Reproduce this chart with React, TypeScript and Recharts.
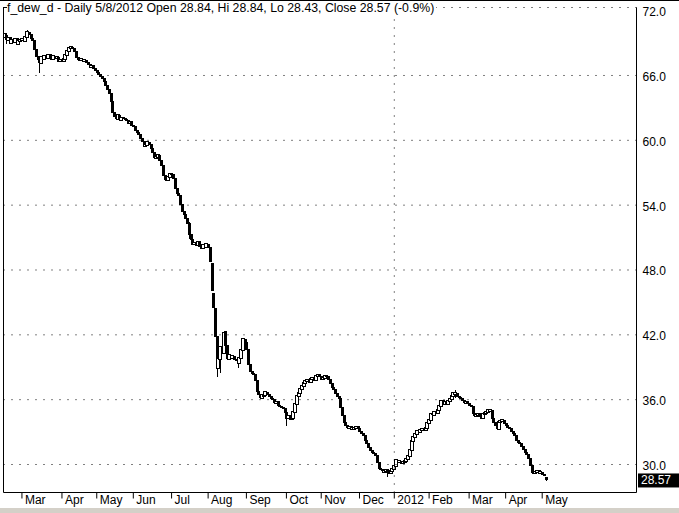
import { ComposedChart, Bar, XAxis, YAxis, ReferenceLine } from 'recharts'

const FONT = '"Liberation Sans", Arial, sans-serif'

// one value per trading day, Feb 2011 .. May 8 2012
const closesFeb11 = [69.8, 69.3, 69.5, 69.0, 69.3, 69.1, 69.4, 68.9, 69.2, 69.3]
const closesMar11 = [69.4, 69.2, 69.6, 70.0, 69.8, 69.4, 69.2, 68.4, 67.8, 67.5, 67.2, 67.7, 67.5, 67.8, 67.6, 67.9, 67.7, 67.5, 67.8, 67.6, 67.7, 67.3, 67.4]
const closesApr11 = [67.3, 67.5, 67.9, 68.3, 68.5, 68.6, 68.5, 68.2, 67.7, 67.5, 67.4, 67.5, 67.3, 67.4, 67.2, 67.0, 66.8, 66.9, 66.6, 66.5, 66.3]
const closesMay11 = [66.1, 65.9, 65.7, 65.4, 65.1, 64.7, 64.3, 63.6, 62.6, 62.2, 62.0, 62.3, 61.9, 62.1, 62.0, 61.9, 61.8, 61.6, 61.7, 61.4, 61.3]
const closesJun11 = [60.9, 60.7, 60.5, 60.2, 59.9, 59.5, 59.6, 59.8, 59.6, 59.2, 58.9, 58.4, 58.5, 58.6, 58.1, 57.7, 56.7, 56.4, 56.3, 56.6, 56.9, 56.8]
const closesJul11 = [56.5, 55.5, 55.1, 54.9, 54.1, 53.4, 53.1, 52.8, 52.3, 51.3, 50.8, 50.4, 50.5, 50.3, 50.6, 50.2, 50.0, 50.3, 50.1, 50.4]
const closesAug11 = [50.1, 48.8, 46.1, 44.5, 41.8, 38.9, 39.8, 40.9, 40.3, 42.2, 41.0, 39.8, 40.1, 39.9, 40.0, 39.7, 39.6, 39.4, 39.9, 40.6, 41.6, 41.3, 40.6]
const closesSep11 = [39.3, 38.6, 38.4, 38.3, 37.8, 36.8, 36.5, 36.2, 36.4, 36.4, 36.7, 36.5, 36.3, 36.1, 36.0, 35.7, 35.8, 35.5, 35.4, 35.3, 35.2]
const closesOct11 = [34.8, 34.3, 34.5, 34.2, 34.3, 34.9, 35.6, 36.3, 36.6, 37.0, 37.3, 37.5, 37.7, 37.8, 37.6, 37.9, 38.0, 37.8, 38.2, 38.3, 38.1]
const closesNov11 = [37.9, 38.0, 38.2, 38.1, 37.9, 37.5, 37.1, 36.9, 36.6, 36.3, 36.1, 35.3, 34.5, 33.9, 33.6, 33.4, 33.5, 33.3, 33.4, 33.4, 33.5]
const closesDec11 = [33.3, 33.1, 32.9, 32.7, 32.2, 31.9, 31.6, 31.3, 31.1, 31.0, 30.8, 30.2, 29.6, 29.5, 29.4, 29.4, 29.5, 29.3, 29.2, 29.4, 29.6]
const closesJan12 = [29.9, 30.4, 30.2, 30.3, 30.1, 30.2, 30.3, 30.5, 30.8, 31.3, 32.2, 32.5, 32.8, 33.1, 33.0, 33.2, 33.3, 33.2, 33.4, 33.8]
const closesFeb12 = [34.1, 34.7, 34.6, 34.9, 34.8, 35.0, 35.4, 35.9, 35.6, 35.8, 35.6, 35.9, 36.1, 36.3, 36.6, 36.6, 36.3, 36.2, 36.1, 35.9]
const closesMar12 = [35.7, 35.8, 35.6, 35.5, 35.4, 34.7, 34.5, 34.6, 34.7, 34.4, 34.3, 34.7, 34.8, 34.9, 35.0, 35.0, 34.3, 33.9, 33.6, 33.3, 33.9, 34.0]
const closesApr12 = [34.1, 33.8, 33.6, 33.4, 33.3, 33.1, 32.9, 32.7, 32.2, 32.0, 31.9, 31.7, 31.4, 31.1, 30.9, 30.6, 29.9, 29.3, 29.2, 29.3]
const closesMay12 = [29.4, 29.3, 29.3, 29.1, 29.0, 28.57]

const opensFeb11 = [69.6, 69.7, 69.3, 69.5, 69.0, 69.3, 69.1, 69.4, 68.9, 69.2]
const opensMar11 = [69.3, 69.4, 69.2, 69.6, 70.0, 69.8, 69.4, 69.2, 68.4, 67.8, 67.5, 67.2, 67.7, 67.5, 67.8, 67.6, 67.9, 67.7, 67.5, 67.8, 67.6, 67.7, 67.3]
const opensApr11 = [67.4, 67.3, 67.5, 67.9, 68.3, 68.5, 68.6, 68.5, 68.2, 67.7, 67.5, 67.4, 67.5, 67.3, 67.4, 67.2, 67.0, 66.8, 66.9, 66.6, 66.5]
const opensMay11 = [66.3, 66.1, 65.9, 65.7, 65.4, 65.1, 64.7, 64.3, 63.6, 62.6, 62.2, 62.0, 62.3, 61.9, 62.1, 62.0, 61.9, 61.8, 61.6, 61.7, 61.4]
const opensJun11 = [61.3, 60.9, 60.7, 60.5, 60.2, 59.9, 59.5, 59.6, 59.8, 59.6, 59.2, 58.9, 58.4, 58.5, 58.6, 58.1, 57.7, 56.7, 56.4, 56.3, 56.6, 56.9]
const opensJul11 = [56.8, 56.5, 55.5, 55.1, 54.9, 54.1, 53.4, 53.1, 52.8, 52.3, 51.3, 50.8, 50.4, 50.5, 50.3, 50.6, 50.2, 50.0, 50.3, 50.1]
const opensAug11 = [50.4, 50.1, 48.6, 45.8, 44.4, 41.8, 38.9, 39.8, 40.9, 40.3, 42.3, 41.0, 39.8, 40.1, 39.9, 40.0, 39.7, 39.6, 39.4, 39.9, 40.6, 41.6, 41.3]
const opensSep11 = [40.6, 39.3, 38.6, 38.4, 38.3, 37.8, 36.8, 36.5, 36.2, 36.4, 36.4, 36.7, 36.5, 36.3, 36.1, 36.0, 35.7, 35.8, 35.5, 35.4, 35.3]
const opensOct11 = [35.2, 34.8, 34.3, 34.5, 34.2, 34.3, 34.9, 35.6, 36.3, 36.6, 37.0, 37.3, 37.5, 37.7, 37.8, 37.6, 37.9, 38.0, 37.8, 38.2, 38.3]
const opensNov11 = [38.1, 37.9, 38.0, 38.2, 38.1, 37.9, 37.5, 37.1, 36.9, 36.6, 36.3, 36.1, 35.3, 34.5, 33.9, 33.6, 33.4, 33.5, 33.3, 33.4, 33.4]
const opensDec11 = [33.5, 33.3, 33.1, 32.9, 32.7, 32.2, 31.9, 31.6, 31.3, 31.1, 31.0, 30.8, 30.2, 29.6, 29.5, 29.4, 29.4, 29.5, 29.3, 29.2, 29.4]
const opensJan12 = [29.6, 29.9, 30.4, 30.2, 30.3, 30.1, 30.2, 30.3, 30.5, 30.8, 31.3, 32.2, 32.5, 32.8, 33.1, 33.0, 33.2, 33.3, 33.2, 33.4]
const opensFeb12 = [33.8, 34.1, 34.7, 34.6, 34.9, 34.8, 35.0, 35.4, 35.9, 35.6, 35.8, 35.6, 35.9, 36.1, 36.3, 36.6, 36.6, 36.3, 36.2, 36.1]
const opensMar12 = [35.9, 35.7, 35.8, 35.6, 35.5, 35.4, 34.7, 34.5, 34.6, 34.7, 34.4, 34.3, 34.7, 34.8, 34.9, 35.0, 35.0, 34.3, 33.9, 33.6, 33.3, 33.9]
const opensApr12 = [34.0, 34.1, 33.8, 33.6, 33.4, 33.3, 33.1, 32.9, 32.7, 32.2, 32.0, 31.9, 31.7, 31.4, 31.1, 30.9, 30.6, 29.9, 29.3, 29.2]
const opensMay12 = [29.3, 29.4, 29.3, 29.3, 29.1, 28.84]

// visible wicks: [day index, low, high]
const wicks: [number, number, number][] = [
  [1, 68.9, 69.9], [13, 69.6, 70.2], [20, 66.2, 67.6], [106, 50.9, 52.4],
  [122, 38.1, 41.8], [124, 38.5, 41.0], [134, 38.9, 39.8], [162, 33.6, 34.8],
  [220, 28.8, 29.5], [259, 36.2, 36.9], [311, 28.43, 28.84],
]

const monthTicks = [10, 33, 53, 74, 96, 117, 139, 162, 182, 204, 224, 244, 267, 288, 309]
const monthLabels = ['Mar', 'Apr', 'May', 'Jun', 'Jul', 'Aug', 'Sep', 'Oct', 'Nov', 'Dec', '2012', 'Feb', 'Mar', 'Apr', 'May']
const priceTicks = [30, 36, 42, 48, 54, 60, 66, 72]
const gridPrices = [30, 36, 42, 48, 54, 60, 66]
const NEW_YEAR = 224
const LAST_CLOSE = 28.57
const TITLE = 'f_dew_d - Daily 5/8/2012 Open 28.84, Hi 28.84, Lo 28.43, Close 28.57 (-0.9%)'

const X_DOMAIN: [number, number] = [-0.6, 363.2]
const Y_DOMAIN: [number, number] = [27.41, 72.29]

const closes = [
  ...closesFeb11, ...closesMar11, ...closesApr11, ...closesMay11, ...closesJun11, ...closesJul11,
  ...closesAug11, ...closesSep11, ...closesOct11, ...closesNov11, ...closesDec11, ...closesJan12,
  ...closesFeb12, ...closesMar12, ...closesApr12, ...closesMay12,
]
const opens = [
  ...opensFeb11, ...opensMar11, ...opensApr11, ...opensMay11, ...opensJun11, ...opensJul11,
  ...opensAug11, ...opensSep11, ...opensOct11, ...opensNov11, ...opensDec11, ...opensJan12,
  ...opensFeb12, ...opensMar12, ...opensApr12, ...opensMay12,
]

const wickByDay = new Map(wicks.map(([i, lo, hi]) => [i, { lo, hi }]))

const candles = closes.map((close, i) => {
  const open = opens[i]
  const w = wickByDay.get(i)
  const high = Math.max(open, close, w ? w.hi : -Infinity)
  const low = Math.min(open, close, w ? w.lo : Infinity)
  return { i, open, close, high: high === low ? high + 0.02 : high, low }
})

function Candle(props: any) {
  const { x, y, width, height, payload } = props
  if (!payload) return null
  const cx = Math.round(x + width / 2)
  const top = Math.min(y, y + height)
  const k = Math.abs(height) / (payload.high - payload.low)
  const py = (v: number) => top + (payload.high - v) * k
  const up = payload.close >= payload.open
  const bTop = py(Math.max(payload.open, payload.close)) - 0.5
  const bBot = py(Math.min(payload.open, payload.close)) + 0.5
  const h = Math.max(bBot - bTop, 2)
  return (
    <g shapeRendering="crispEdges">
      <line x1={cx + 0.5} x2={cx + 0.5} y1={py(payload.high)} y2={py(payload.low)} stroke="#000" />
      {up
        ? <rect x={cx - 1.5} y={bTop} width={3} height={h} fill="#fff" stroke="#000" />
        : <rect x={cx - 1} y={bTop} width={3} height={h} fill="#000" />}
    </g>
  )
}

function MonthTick(props: any) {
  const { x, y, payload } = props
  const label = monthLabels[monthTicks.indexOf(payload.value)]
  return (
    <text x={x + 3} y={y + 5.5} fontSize={12} fontFamily={FONT} fill="#000">{label}</text>
  )
}

function PriceTick(props: any) {
  const { x, y, payload } = props
  return (
    <text x={x} y={y + 5.5} fontSize={12} fontFamily={FONT} fill="#000">{payload.value.toFixed(1)}</text>
  )
}

function LastTag(props: any) {
  const { x, y, width } = props.viewBox
  const left = x + width + 1.5
  return (
    <g>
      <rect x={left} y={y - 6.5} width={41} height={14} fill="#000" />
      <text x={left + 3} y={y + 4.5} fontSize={12} fontFamily={FONT} fill="#fff">{LAST_CLOSE.toFixed(2)}</text>
    </g>
  )
}

export default function App() {
  return (
    <div style={{ position: 'absolute', left: 0, top: 0, width: 679, height: 513, background: '#fff', fontFamily: FONT }}>
      <ComposedChart width={679} height={513} data={candles} margin={{ top: 7.5, right: 0, bottom: 0, left: 3.5 }}>
        <XAxis
          type="number"
          dataKey="i"
          domain={X_DOMAIN}
          allowDataOverflow
          ticks={monthTicks}
          interval={0}
          height={20.5}
          axisLine={{ stroke: '#000' }}
          tickLine={{ stroke: '#000' }}
          tickSize={6}
          tickMargin={0}
          tick={<MonthTick />}
        />
        <YAxis
          orientation="right"
          type="number"
          domain={Y_DOMAIN}
          allowDataOverflow
          ticks={priceTicks}
          interval={0}
          width={42.5}
          axisLine={{ stroke: '#000' }}
          tickLine={false}
          tickSize={6}
          tickMargin={0}
          tick={<PriceTick />}
        />
        {gridPrices.map(p => (
          <ReferenceLine key={p} y={p} stroke="#000" strokeDasharray="1 7" />
        ))}
        <ReferenceLine y={Y_DOMAIN[1]} stroke="#000" strokeDasharray="1 7" />
        <ReferenceLine x={X_DOMAIN[0]} stroke="#000" />
        <ReferenceLine x={NEW_YEAR} stroke="#000" strokeDasharray="1 7" />
        <Bar dataKey={(d: any) => [d.low, d.high]} shape={Candle} barSize={3} isAnimationActive={false} />
        <ReferenceLine y={LAST_CLOSE} stroke="none" label={{ content: LastTag }} />
      </ComposedChart>
      <div style={{ position: 'absolute', left: 0, top: 0, width: 679, height: 1, background: '#000' }} />
      <div style={{ position: 'absolute', left: 3, top: 7, width: 4, height: 1, background: '#000' }} />
      <div
        style={{
          position: 'absolute', left: 7, top: 1, height: 14, lineHeight: '14px', fontSize: 12.3,
          background: '#fff', padding: '0 2px 0 0', whiteSpace: 'nowrap', color: '#000',
        }}
      >
        {TITLE}
      </div>
      <div style={{ position: 'absolute', left: 0, top: 508, width: 679, height: 5, background: '#d4d0c8' }} />
    </div>
  )
}
